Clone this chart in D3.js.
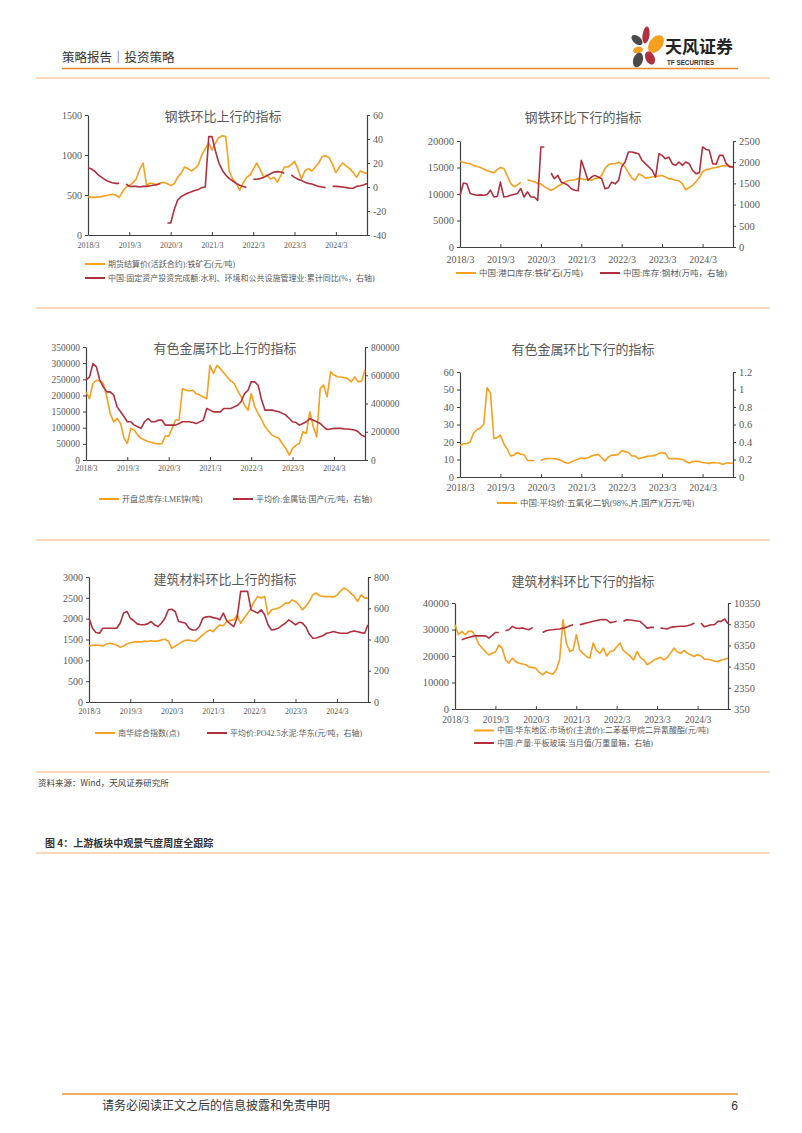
<!DOCTYPE html>
<html><head><meta charset="utf-8">
<script src="https://cdn.jsdelivr.net/npm/d3@7"></script>
<style>
html,body{margin:0;padding:0;background:#fff;}
svg{display:block;}
</style></head>
<body>
<svg id="page" width="802" height="1133"></svg>
<script>
// ---------- DATA (monthly, 2018/3 … 2024/12) ----------
const monthCount = 82;
const xTickLabels = ["2018/3","2019/3","2020/3","2021/3","2022/3","2023/3","2024/3"];

const titles = ["钢铁环比上行的指标","钢铁环比下行的指标","有色金属环比上行的指标","有色金属环比下行的指标","建筑材料环比上行的指标","建筑材料环比下行的指标"];

const seriesNames = {
  ironOre: "期货结算价(活跃合约):铁矿石(元/吨)",
  fai: "中国:固定资产投资完成额:水利、环境和公共设施管理业:累计同比(%，右轴)",
  portOre: "中国:港口库存:铁矿石(万吨)",
  steel: "中国:库存:钢材(万吨，右轴)",
  zinc: "开盘总库存:LME锌(吨)",
  cobalt: "平均价:金属钴:国产(元/吨，右轴)",
  vanadium: "中国:平均价:五氧化二钒(98%,片,国产)(万元/吨)",
  nanhua: "南华综合指数(点)",
  cement: "平均价:PO42.5水泥:华东(元/吨，右轴)",
  mdi: "中国:华东地区:市场价(主流价):二苯基甲烷二异氰酸酯(元/吨)",
  glass: "中国:产量:平板玻璃:当月值(万重量箱，右轴)"
};

const ironOre = [480,470,470,475,480,490,500,510,500,470,
  540,600,620,650,700,820,900,620,650,640,630,650,
  660,640,620,640,720,770,850,830,800,830,880,1000,
  1080,1150,1060,1150,1220,1240,1230,800,700,650,560,650,
  720,750,820,900,820,720,750,700,720,660,750,850,
  850,880,920,820,700,800,830,800,850,900,980,990,
  970,880,780,850,900,860,830,780,720,800,780,770];
const fai = [16,15,13,10,8,6,4.5,3.5,3,3,
  null,2.5,0.5,0.5,0.5,0,0.5,0.5,1,1.5,2,2.9,
  null,-30,-30,-19,-11,-8,-6.5,-5,-4,-3,-2,-0.5,
  0,42,42,30,20,14,10,7,5,3,1.5,0.5,
  -0.5,null,6.5,6.5,7,8,9.5,11,12.5,12.8,12.5,11.5,
  null,10,8,6.5,5.5,4,3,2.5,1.5,0.5,0,-0.5,
  null,0.5,0.5,0.3,0,-0.5,-1,-1,0.5,1,1.7,3];

const portOre = [16200,16000,15800,15700,15400,15200,15000,14700,14400,14200,
  14000,14600,15000,14800,13500,12000,11400,11700,12200,null,12700,12500,
  12300,12000,11900,11400,11000,10700,11000,11500,11800,12200,12500,12600,
  12700,12900,12900,12700,12800,12600,12900,13000,13500,14800,15500,15700,
  15700,16000,15700,15100,14000,13000,12600,13800,13500,13000,13100,13200,
  13300,13400,13500,13200,12900,12800,12600,12500,11900,10800,11200,11600,
  12300,13100,14200,14600,14700,14900,15000,15200,15300,15400,15300,15100];
const steel = [1220,1510,1490,1260,1240,1220,1230,1220,1240,1340,
  1180,1190,1530,1180,1190,1220,1240,1260,1380,1180,1300,1180,
  1180,1100,2360,2360,null,1745,1610,1690,1530,1500,1455,1375,
  1340,1330,2045,1810,1570,1650,1690,1650,1610,1375,1400,1530,
  1490,1570,1890,2005,2240,2240,2220,2200,2045,1965,1890,1810,
  1650,2200,2160,2080,2120,1965,1925,2005,1925,2005,1965,1810,
  1730,1750,2360,2300,2280,1965,1950,2160,2160,1965,1890,1890];

const zinc = [211000,190000,237000,247000,245000,237000,196000,144000,118000,129000,
  113000,67000,51000,98000,93000,77000,67000,62000,57000,54000,51000,50000,
  51000,74000,74000,98000,124000,124000,221000,216000,214000,216000,205000,201000,
  195000,190000,293000,268000,293000,283000,270000,257000,245000,237000,215000,196000,
  170000,154000,206000,165000,144000,125000,103000,90000,77000,72000,67000,51000,
  36000,15000,36000,46000,51000,88000,82000,149000,103000,72000,221000,232000,
  196000,273000,263000,258000,257000,255000,252000,242000,257000,242000,245000,278000];
const cobalt = [565000,588000,682000,659000,565000,518000,482000,482000,459000,376000,
  341000,306000,271000,271000,247000,235000,224000,271000,294000,271000,271000,282000,
  282000,247000,247000,247000,247000,259000,271000,271000,271000,265000,259000,270000,
  282000,365000,353000,341000,341000,341000,365000,365000,365000,376000,388000,412000,
  470000,494000,553000,553000,529000,424000,353000,353000,353000,347000,341000,330000,
  318000,294000,271000,265000,247000,259000,271000,294000,282000,271000,259000,235000,
  216000,220000,224000,224000,224000,220000,220000,216000,212000,200000,176000,165000];

const vanadium = [18.2,19,19,20,25,27,28,30,51,48,
  22,22.5,24,19,16,12,12.5,14,13,12.8,9.5,9.4,
  9.3,null,9.4,10.3,10.6,10.6,10.5,10,9.5,8.3,7.9,8.6,
  9.5,10.3,10.8,10.5,11,12,12.5,13,11,9.2,11.5,12.5,
  12.5,13,15,14.5,14,12,12,10.5,11,11.5,12,12,
  12.5,13.5,14,13.5,10.5,10.5,10.5,10.3,10,9,8,8.8,
  9,8.8,8.3,8,7.8,8.3,8.1,8,7.2,8,8,7.7];

const nanhua = [1343,1360,1368,1360,1343,1390,1408,1390,1368,1311,
  1343,1400,1424,1440,1448,1440,1460,1450,1472,1460,1465,1490,
  1504,1460,1287,1343,1390,1448,1480,1488,1470,1460,1540,1609,
  1680,1730,1689,1780,1850,1830,1930,1960,1971,2092,1890,2011,
  2130,2253,2413,2534,2494,2534,2092,2212,2230,2253,2300,2373,
  2373,2450,2413,2333,2212,2300,2413,2574,2614,2550,2534,2530,
  2530,2520,2560,2655,2735,2690,2614,2534,2413,2574,2494,2494];
const cement = [536,472,445,440,472,472,472,472,472,504,
  569,579,536,520,500,494,494,500,515,494,483,504,
  536,590,594,579,515,510,504,472,461,461,483,536,
  545,547,540,536,526,569,520,500,483,540,708,708,
  708,590,580,569,590,558,494,461,465,472,490,504,
  526,510,494,510,505,480,435,408,410,418,425,440,
  445,451,445,440,440,440,450,455,450,444,440,494];

const mdi = [31800,28000,29300,28000,29300,29300,27600,24500,23000,21700,
  20400,21000,21500,24200,23000,18500,17300,19200,17900,17300,17000,16700,
  15800,15600,15400,13800,12900,14100,13500,13100,14800,18500,33700,24900,
  21700,22300,28000,22300,21000,19800,19200,24900,22000,21000,23000,20000,
  21700,22000,23500,24900,22000,21000,20000,18500,21700,19500,18500,16700,
  17500,18500,19000,19500,18500,19500,21000,23000,21500,21000,22100,21000,
  20400,19800,20500,20000,18800,18800,18500,18000,17900,18500,18800,19200];
const glass = [null,null,6880,7000,7100,7200,7250,7250,7250,7250,
  7040,7300,7570,7570,null,7730,7830,8140,7980,7950,8000,7900,
  7830,8050,null,null,7570,7730,7800,7830,7870,7900,7980,8050,
  8200,8300,null,8300,8380,8460,8540,8620,8700,8770,8800,8770,
  8500,8550,8620,null,8620,8770,8750,8700,8650,8600,8300,7980,
  8050,8050,null,8000,7950,7900,8050,8100,8140,8150,8150,8200,
  8300,8460,null,8460,8100,8200,8300,8300,8620,8620,8840,8390];

// axis tick values
const ticks1L = [0,500,1000,1500], ticks1R = [-40,-20,0,20,40,60];
const ticks2L = [0,5000,10000,15000,20000], ticks2R = [0,500,1000,1500,2000,2500];
const ticks3L = [0,50000,100000,150000,200000,250000,300000,350000], ticks3R = [0,200000,400000,600000,800000];
const ticks4L = [0,10,20,30,40,50,60], ticks4R = [0,0.2,0.4,0.6,0.8,1,1.2];
const ticks5L = [0,500,1000,1500,2000,2500,3000], ticks5R = [0,200,400,600,800];
const ticks6L = [0,10000,20000,30000,40000], ticks6R = [350,2350,4350,6350,8350,10350];

// ---------- STYLE ----------
const ORANGE = "#F5A01E", RED = "#B0303F";
const AXIS = "#404040", TXT = "#595959";
const SERIF = "'Liberation Serif','Times New Roman','Noto Sans CJK SC',serif";
const SANS = "'Noto Sans CJK SC','Noto Sans',sans-serif";

const months = d3.range(monthCount).map(i => new Date(2018, 2 + i, 1));
const xTickDates = xTickLabels.map(s => { const p = s.split('/'); return new Date(+p[0], +p[1] - 1, 1); });

const charts = [
  {title: titles[0], l:88, r:367, t:115, b:235, tx:223, ty:121, xly:245,
   lDom:[0,1500], rDom:[-40,60], lT:ticks1L, rT:ticks1R, tf:10, xf:8, lf:8,
   series:[{v:ironOre, ax:'L', c:ORANGE, n:seriesNames.ironOre, lx:85, ly:264},
           {v:fai, ax:'R', c:RED, n:seriesNames.fai, lx:85, ly:278}]},
  {title: titles[1], l:460, r:733, t:141, b:247, tx:583, ty:122, xly:259,
   lDom:[0,20000], rDom:[0,2500], lT:ticks2L, rT:ticks2R, tf:10.5, xf:10, lf:8.5,
   series:[{v:portOre, ax:'L', c:ORANGE, n:seriesNames.portOre, lx:456, ly:273},
           {v:steel, ax:'R', c:RED, n:seriesNames.steel, lx:600, ly:273}]},
  {title: titles[2], l:86, r:365, t:347, b:460, tx:225, ty:353, xly:468,
   lDom:[0,350000], rDom:[0,800000], lT:ticks3L, rT:ticks3R, tf:9.5, xf:8, lf:8,
   series:[{v:zinc, ax:'L', c:ORANGE, n:seriesNames.zinc, lx:99, ly:499},
           {v:cobalt, ax:'R', c:RED, n:seriesNames.cobalt, lx:233, ly:499}]},
  {title: titles[3], l:460, r:733, t:372, b:477, tx:583, ty:354, xly:487,
   lDom:[0,60], rDom:[0,1.2], lT:ticks4L, rT:ticks4R, tf:10.5, xf:10, lf:8.5,
   series:[{v:vanadium, ax:'L', c:ORANGE, n:seriesNames.vanadium, lx:497, ly:503}]},
  {title: titles[4], l:89, r:368, t:577, b:702, tx:225, ty:584, xly:711,
   lDom:[0,3000], rDom:[0,800], lT:ticks5L, rT:ticks5R, tf:10, xf:8, lf:8,
   series:[{v:nanhua, ax:'L', c:ORANGE, n:seriesNames.nanhua, lx:95, ly:733},
           {v:cement, ax:'R', c:RED, n:seriesNames.cement, lx:207, ly:733}]},
  {title: titles[5], l:455, r:728, t:603, b:709, tx:583, ty:586, xly:719.5,
   lDom:[0,40000], rDom:[350,10350], lT:ticks6L, rT:ticks6R, tf:10.5, xf:9.5, lf:8,
   series:[{v:mdi, ax:'L', c:ORANGE, n:seriesNames.mdi, lx:474, ly:730.5},
           {v:glass, ax:'R', c:RED, n:seriesNames.glass, lx:474, ly:743}]}
];

const svg = d3.select('#page');
svg.append('rect').attr('width',802).attr('height',1133).attr('fill','#fff');

// ---------- PAGE FRAME ----------
const LINE_LT = "#F3B27A";
svg.append('text').attr('x',62).attr('y',62).attr('font-family',SANS).attr('font-size',12.5)
  .attr('fill','#333').text('策略报告｜投资策略');
svg.append('line').attr('x1',62).attr('x2',738).attr('y1',68.5).attr('y2',68.5).attr('stroke','#E8892B').attr('stroke-width',1.5);
[78,308,540,772,853].forEach(y => svg.append('line').attr('x1',36).attr('x2',770).attr('y1',y).attr('y2',y)
  .attr('stroke',LINE_LT).attr('stroke-width',1.2));

// logo
const logo = svg.append('g');
const petals = [
  {cx:646, cy:35, rx:3.5, ry:8.5, rot:8, c:RED},
  {cx:637, cy:40, rx:3.8, ry:6.5, rot:-50, c:"#4a4a4a"},
  {cx:656, cy:44, rx:6.5, ry:10, rot:38, c:ORANGE},
  {cx:638, cy:50, rx:5, ry:3.2, rot:-12, c:ORANGE},
  {cx:638, cy:60, rx:4.8, ry:7.5, rot:18, c:"#4a4a4a"},
  {cx:650, cy:58, rx:4.5, ry:7, rot:-25, c:RED}
];
petals.forEach(p => logo.append('ellipse').attr('cx',p.cx).attr('cy',p.cy).attr('rx',p.rx).attr('ry',p.ry)
  .attr('transform',`rotate(${p.rot},${p.cx},${p.cy})`).attr('fill',p.c));
logo.append('text').attr('x',665).attr('y',53).attr('font-family',SANS).attr('font-weight',700)
  .attr('font-size',17).attr('fill','#222').text('天风证券');
logo.append('text').attr('x',667).attr('y',65).attr('font-family',"'Liberation Sans',Arial,sans-serif").attr('font-weight',700)
  .attr('font-size',6.3).attr('fill','#333').text('TF SECURITIES');

svg.append('text').attr('x',38).attr('y',786).attr('font-family',SANS).attr('font-size',8.5).attr('fill','#404040')
  .text('资料来源：Wind，天风证券研究所');
svg.append('text').attr('x',45).attr('y',847).attr('font-family',SANS).attr('font-size',10).attr('font-weight',700).attr('fill','#333')
  .text('图 4：上游板块中观景气度周度全跟踪');
svg.append('line').attr('x1',62).attr('x2',738).attr('y1',1094).attr('y2',1094).attr('stroke','#E8962B').attr('stroke-width',1.5);
svg.append('text').attr('x',102).attr('y',1110).attr('font-family',SANS).attr('font-size',12).attr('fill','#333')
  .text('请务必阅读正文之后的信息披露和免责申明');
svg.append('text').attr('x',738).attr('y',1110).attr('text-anchor','end').attr('font-family',"'Liberation Sans',sans-serif").attr('font-size',12).attr('fill','#333')
  .text('6');

// ---------- CHARTS ----------
function styleAxis(g, fs) {
  g.select('.domain').attr('stroke', AXIS).attr('stroke-width', 1.2);
  g.selectAll('.tick line').attr('stroke', AXIS).attr('stroke-width', 1);
  g.selectAll('.tick text').attr('fill', TXT).attr('font-family', SERIF).attr('font-size', fs);
}

charts.forEach(c => {
  const g = svg.append('g');
  const x = d3.scaleTime().domain([months[0], months[monthCount - 1]]).range([c.l, c.r]);
  const yL = d3.scaleLinear().domain(c.lDom).range([c.b, c.t]);
  const yR = d3.scaleLinear().domain(c.rDom).range([c.b, c.t]);

  const gl = g.append('g').attr('transform', `translate(${c.l},0)`)
    .call(d3.axisLeft(yL).tickValues(c.lT).tickSize(3).tickSizeOuter(0).tickPadding(3).tickFormat(d => String(d)));
  styleAxis(gl, c.tf);
  const gr = g.append('g').attr('transform', `translate(${c.r},0)`)
    .call(d3.axisRight(yR).tickValues(c.rT).tickSize(3).tickSizeOuter(0).tickPadding(3).tickFormat(d => String(d)));
  styleAxis(gr, c.tf);
  const gx = g.append('g').attr('transform', `translate(0,${c.b})`)
    .call(d3.axisBottom(x).tickValues(xTickDates).tickSize(-3).tickSizeOuter(0).tickFormat((d, i) => xTickLabels[i]));
  styleAxis(gx, c.xf);
  gx.selectAll('.tick text').attr('y', c.xly - c.b).attr('dy', '0.35em');

  c.series.forEach(s => {
    const y = s.ax === 'L' ? yL : yR;
    const line = d3.line().defined(d => d != null).x((d, i) => x(months[i])).y(d => y(d));
    g.append('path').datum(s.v).attr('d', line).attr('fill', 'none')
      .attr('stroke', s.c).attr('stroke-width', 1.6).attr('stroke-linejoin', 'round');
    g.append('line').attr('x1', s.lx).attr('x2', s.lx + 20).attr('y1', s.ly).attr('y2', s.ly)
      .attr('stroke', s.c).attr('stroke-width', 2);
    g.append('text').attr('x', s.lx + 23).attr('y', s.ly).attr('dy', '0.35em')
      .attr('font-family', SERIF).attr('font-size', c.lf).attr('fill', TXT).text(s.n);
  });

  g.append('text').attr('x', c.tx).attr('y', c.ty).attr('text-anchor', 'middle')
    .attr('font-family', SANS).attr('font-size', 13).attr('fill', TXT).text(c.title);
});
</script>
</body></html>
